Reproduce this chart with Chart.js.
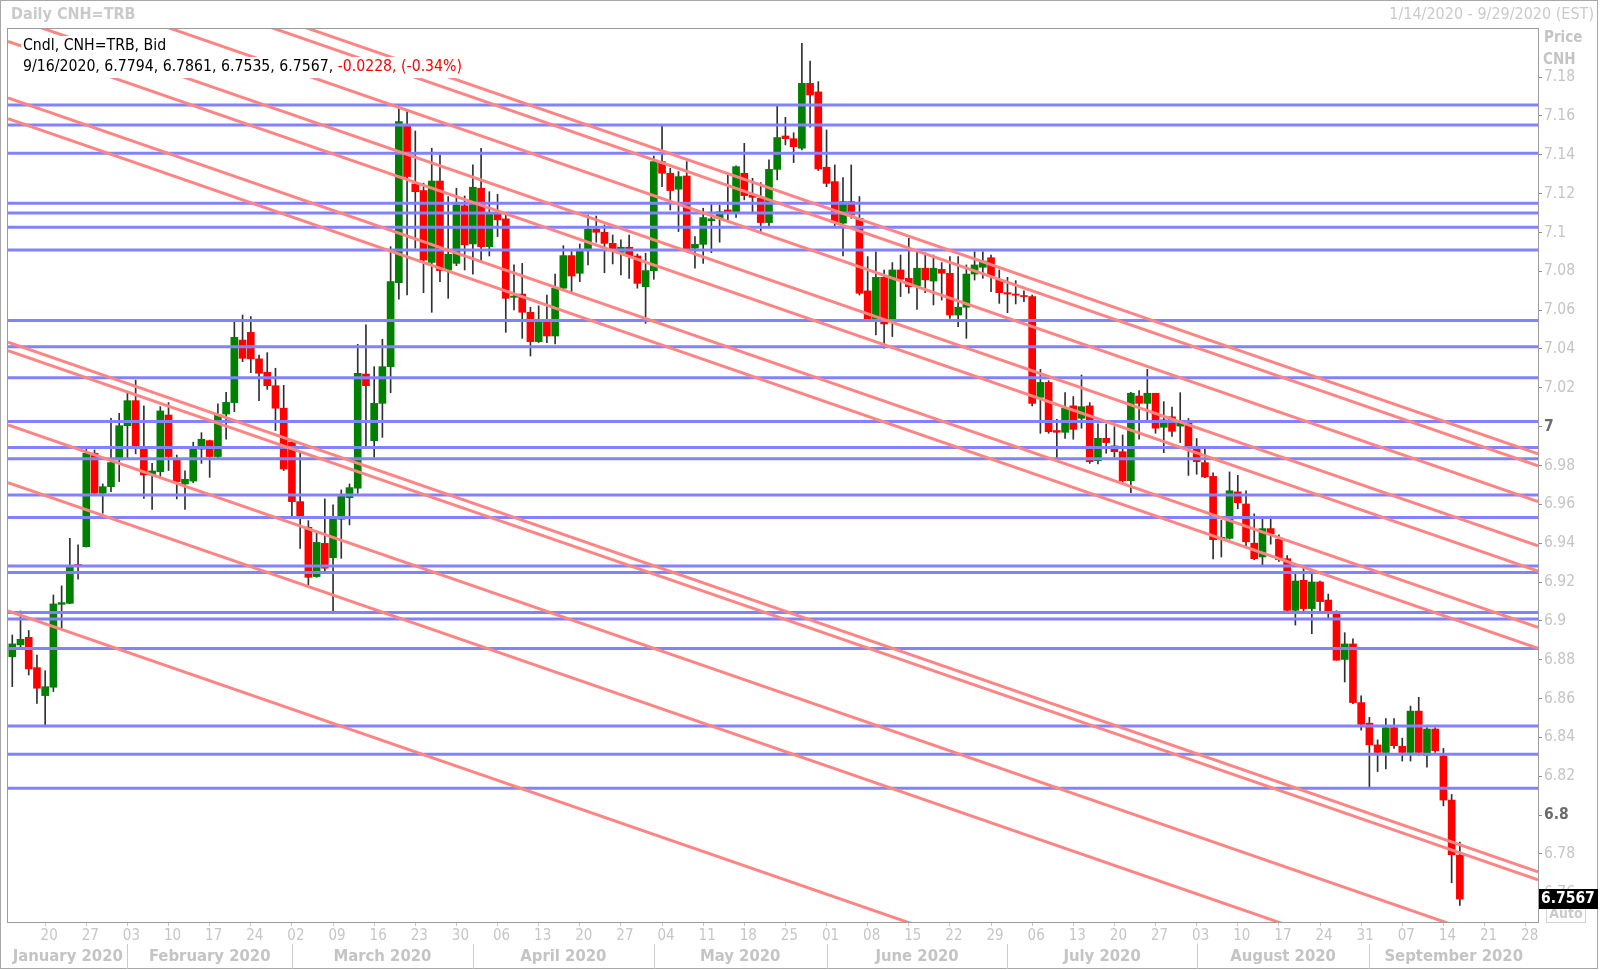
<!DOCTYPE html>
<html>
<head>
<meta charset="utf-8">
<script src="https://cdn.jsdelivr.net/npm/chart.js@4.4.1/dist/chart.umd.min.js"></script>
<style>
  html, body { margin: 0; padding: 0; background: #fff; }
  canvas { display: block; }
</style>
</head>
<body>
<canvas id="chart" width="1600" height="970"></canvas>
<script>
// Daily CNH=TRB candles, 14 Jan 2020 .. 16 Sep 2020 (one entry per weekday session)
const opens = [
  6.8815,6.8876,6.8915,6.8759,6.8615,6.8658,6.9085,6.9090,6.9290,6.9382,
  6.9863,6.9657,6.9691,6.9829,7.0005,7.0134,6.9889,6.9751,6.9768,7.0060,
  6.9829,6.9705,6.9720,6.9884,6.9928,6.9846,7.0065,7.0124,7.0446,7.0486,
  7.0349,7.0280,7.0211,7.0095,6.9920,6.9614,6.9482,6.9228,6.9399,6.9325,
  6.9523,6.9634,6.9683,7.0271,6.9928,7.0120,7.0309,7.0742,7.1549,7.1250,
  7.1216,7.0846,7.1265,7.0807,7.0841,7.1138,7.0941,7.1228,7.0927,7.1094,
  7.1070,7.0666,7.0683,7.0589,7.0438,7.0541,7.0467,7.0713,7.0881,7.0790,
  7.0915,7.1017,7.1001,7.0944,7.0898,7.0924,7.0879,7.0721,7.0804,7.1365,
  7.1305,7.1223,7.1291,7.0919,7.0939,7.1061,7.1073,7.1116,7.1107,7.1305,
  7.1193,7.1176,7.1051,7.1325,7.1497,7.1483,7.1434,7.1768,7.1724,7.1336,
  7.1262,7.1048,7.1159,7.1073,7.0699,7.0549,7.0769,7.0549,7.0807,7.0764,
  7.0725,7.0816,7.0750,7.0810,7.0790,7.0575,7.0615,7.0786,7.0821,7.0870,
  7.0759,7.0690,7.0683,7.0675,7.0670,7.0151,7.0228,6.9980,6.9971,7.0107,
  7.0043,7.0107,6.9825,6.9940,6.9901,6.9871,6.9722,7.0158,7.0120,7.0172,
  6.9997,7.0051,7.0003,7.0019,6.9886,6.9815,6.9744,6.9421,6.9425,6.9664,
  6.9602,6.9400,6.9329,6.9475,6.9421,6.9320,6.9054,6.9209,6.9063,6.9200,
  6.9107,6.9040,6.8801,6.8881,6.8579,6.8473,6.8361,6.8322,6.8450,6.8354,
  6.8322,6.8535,6.8308,6.8443,6.8304,6.8077,6.7794
];
const highs = [
  6.8927,6.9051,6.8950,6.8824,6.8743,6.9133,6.9180,6.9425,6.9391,6.9889,
  6.9880,6.9705,7.0043,7.0069,7.0172,7.0240,7.0107,6.9811,7.0103,7.0124,
  6.9854,6.9772,6.9920,6.9969,6.9931,7.0117,7.0177,7.0541,7.0575,7.0567,
  7.0369,7.0381,7.0301,7.0213,6.9926,6.9871,6.9516,6.9451,6.9628,6.9597,
  6.9674,6.9705,7.0424,7.0524,7.0309,7.0450,7.0927,7.1652,7.1634,7.1523,
  7.1254,7.1434,7.1399,7.1185,7.1228,7.1188,7.1348,7.1434,7.1210,7.1197,
  7.1099,7.0833,7.0841,7.0615,7.0622,7.0678,7.0786,7.0932,7.0902,7.0941,
  7.1090,7.1085,7.1039,7.0987,7.0962,7.0987,7.0889,7.0893,7.1394,7.1549,
  7.1331,7.1314,7.1365,7.0979,7.1125,7.1147,7.1142,7.1296,7.1343,7.1459,
  7.1279,7.1257,7.1374,7.1652,7.1593,7.1514,7.1974,7.1883,7.1777,7.1528,
  7.1348,7.1283,7.1348,7.1185,7.0876,7.0901,7.0807,7.0845,7.0884,7.0970,
  7.0901,7.0896,7.0884,7.0845,7.0876,7.0876,7.0833,7.0901,7.0901,7.0884,
  7.0807,7.0769,7.0752,7.0699,7.0678,7.0295,7.0237,7.0038,7.0175,7.0155,
  7.0266,7.0124,7.0014,7.0014,7.0000,6.9957,7.0177,7.0186,7.0295,7.0172,
  7.0129,7.0101,7.0175,7.0042,6.9939,6.9886,6.9762,6.9519,6.9767,6.9749,
  6.9670,6.9551,6.9524,6.9524,6.9443,6.9336,6.9240,6.9271,6.9240,6.9205,
  6.9138,6.9052,6.8939,6.8907,6.8614,6.8503,6.8387,6.8496,6.8496,6.8396,
  6.8561,6.8606,6.8450,6.8450,6.8343,6.8106,6.7861
];
const lows = [
  6.8661,6.8867,6.8721,6.8575,6.8465,6.8636,6.8962,6.9088,6.9214,6.9380,
  6.9650,6.9554,6.9665,6.9717,6.9837,6.9860,6.9631,6.9574,6.9743,6.9774,
  6.9628,6.9574,6.9712,6.9811,6.9739,6.9837,6.9935,7.0077,7.0335,7.0278,
  7.0134,7.0192,6.9980,6.9774,6.9540,6.9373,6.9176,6.9224,6.9253,6.9047,
  6.9322,6.9494,6.9657,6.9902,6.9842,6.9945,7.0175,7.0656,7.0678,7.0919,
  7.0690,7.0589,7.0747,7.0661,7.0829,7.0807,7.0785,7.0850,7.0879,7.0979,
  7.0486,7.0601,7.0455,7.0364,7.0433,7.0433,7.0426,7.0701,7.0687,7.0747,
  7.0833,7.0950,7.0793,7.0838,7.0781,7.0764,7.0713,7.0532,7.0759,7.1236,
  7.1116,7.1005,7.0913,7.0816,7.0841,7.0896,7.0950,7.1065,7.1078,7.1168,
  7.1107,7.1005,7.1030,7.1271,7.1451,7.1360,7.1425,7.1542,7.1319,7.1236,
  7.1034,7.0879,7.1073,7.0678,7.0550,7.0472,7.0404,7.0464,7.0670,7.0687,
  7.0604,7.0690,7.0627,7.0652,7.0558,7.0515,7.0455,7.0755,7.0764,7.0695,
  7.0635,7.0587,7.0632,7.0644,7.0107,6.9966,6.9966,6.9825,6.9940,6.9935,
  6.9992,6.9811,6.9808,6.9863,6.9842,6.9708,6.9660,6.9935,7.0035,6.9966,
  6.9866,6.9950,6.9918,6.9749,6.9755,6.9737,6.9319,6.9329,6.9421,6.9577,
  6.9382,6.9315,6.9288,6.9395,6.9306,6.9045,6.8978,6.9045,6.8934,6.9045,
  6.9014,6.8797,6.8685,6.8574,6.8437,6.8145,6.8224,6.8237,6.8343,6.8278,
  6.8278,6.8308,6.8247,6.8322,6.8047,6.7651,6.7535
];
const closes = [
  6.8881,6.8905,6.8752,6.8653,6.8661,6.9087,6.9094,6.9276,6.9285,6.9863,
  6.9657,6.9691,6.9815,7.0005,7.0134,6.9902,6.9751,6.9772,7.0081,6.9846,
  6.9717,6.9729,6.9885,6.9935,6.9846,7.0060,7.0125,7.0460,7.0352,7.0349,
  7.0275,7.0211,7.0095,6.9782,6.9614,6.9540,6.9224,6.9404,6.9271,6.9523,
  6.9643,6.9686,7.0275,7.0211,7.0120,7.0309,7.0747,7.1571,7.1288,7.1210,
  7.0858,7.1265,7.0804,7.0888,7.1142,7.0936,7.1233,7.0927,7.1099,7.1065,
  7.0661,7.0673,7.0589,7.0438,7.0541,7.0467,7.0713,7.0881,7.0776,7.0914,
  7.1017,7.1001,7.0944,7.0915,7.0924,7.0879,7.0738,7.0804,7.1365,7.1305,
  7.1216,7.1288,7.0913,7.0939,7.1077,7.1070,7.1107,7.1107,7.1339,7.1190,
  7.1181,7.1051,7.1325,7.1489,7.1483,7.1442,7.1768,7.1708,7.1327,7.1253,
  7.1051,7.1159,7.1090,7.0687,7.0553,7.0769,7.0529,7.0807,7.0759,7.0721,
  7.0816,7.0756,7.0816,7.0790,7.0575,7.0615,7.0786,7.0833,7.0853,7.0776,
  7.0690,7.0683,7.0677,7.0670,7.0120,7.0228,6.9974,6.9971,7.0095,6.9986,
  7.0103,6.9820,6.9940,6.9918,6.9871,6.9722,7.0172,7.0120,7.0172,6.9992,
  7.0035,6.9976,7.0019,6.9900,6.9820,6.9741,6.9418,6.9430,6.9670,6.9608,
  6.9407,6.9320,6.9475,6.9448,6.9315,6.9054,6.9205,6.9063,6.9200,6.9099,
  6.9040,6.8797,6.8881,6.8579,6.8467,6.8361,6.8322,6.8450,6.8357,6.8322,
  6.8535,6.8322,6.8443,6.8331,6.8077,6.7795,6.7567
];

// Horizontal support / resistance levels
const levels = [
  7.1657, 7.1554, 7.1408, 7.1151, 7.1101, 7.1027, 7.0910, 7.0547, 7.0412, 7.0252,
  7.0026, 6.9893, 6.9835, 6.9648, 6.9532, 6.9283, 6.9249, 6.9043, 6.9009, 6.8857,
  6.8459, 6.8313, 6.8138
];
// Parallel trend channel lines: price on 14 Jan and price on 29 Sep
const trendStart = [7.2578, 7.2517, 7.2333, 7.2106, 7.1976, 7.1686, 7.1578, 7.0427, 7.0384, 7.0001, 6.9704, 6.9043];
const trendEnd   = [6.9867, 6.9805, 6.9621, 6.9394, 6.9264, 6.8974, 6.8866, 6.7715, 6.7673, 6.7290, 6.6993, 6.6332];

// Axis labels
const priceTicks = [6.76, 6.78, 6.80, 6.82, 6.84, 6.86, 6.88, 6.90, 6.92, 6.94, 6.96, 6.98,
                    7.00, 7.02, 7.04, 7.06, 7.08, 7.10, 7.12, 7.14, 7.16, 7.18];
const weekLabels = ['20','27','03','10','17','24','02','09','16','23','30','06','13','20','27',
                    '04','11','18','25','01','08','15','22','29','06','13','20','27','03','10',
                    '17','24','31','07','14','21','28'];
const monthNames = ['January 2020','February 2020','March 2020','April 2020','May 2020',
                    'June 2020','July 2020','August 2020','September 2020'];

const FONT = '"DejaVu Sans Condensed", "DejaVu Sans", sans-serif';
const X_MIN = -0.52, X_MAX = 185.5;
const Y_MIN = 6.7449, Y_MAX = 7.2048;

// Weekday sessions covering the visible date range
const sessions = [];
for (let d = new Date(2020, 0, 14); d <= new Date(2020, 8, 29); d.setDate(d.getDate() + 1)) {
  const wd = d.getDay();
  if (wd !== 0 && wd !== 6) sessions.push(new Date(d));
}
const lastSession = sessions.length - 1;
const mondayIdx = sessions.map((d, i) => d.getDay() === 1 ? i : -1).filter(i => i >= 0);
const monthStartIdx = sessions.map((d, i) =>
  (i === 0 || d.getMonth() !== sessions[i - 1].getMonth()) ? i : -1).filter(i => i >= 0);

const UP = '#008000', DOWN = '#ff0000';
const wickData = highs.map((h, i) => ({ x: i, y: [lows[i], h] }));
const bodyData = opens.map((o, i) => ({ x: i, y: [Math.min(o, closes[i]), Math.max(o, closes[i])] }));
const bodyColors = opens.map((o, i) => closes[i] >= o ? UP : DOWN);

const datasets = [];
trendStart.forEach((p0, k) => {
  const slope = (trendEnd[k] - p0) / lastSession;
  datasets.push({
    type: 'line', order: 0, clip: 0,
    data: [{ x: X_MIN, y: p0 + slope * X_MIN }, { x: X_MAX, y: p0 + slope * X_MAX }],
    borderColor: '#ff8585', borderWidth: 3, pointRadius: 0, tension: 0
  });
});
levels.forEach(p => {
  datasets.push({
    type: 'line', order: 1, clip: 0,
    data: [{ x: X_MIN, y: p }, { x: X_MAX, y: p }],
    borderColor: '#8282ff', borderWidth: 3, pointRadius: 0, tension: 0
  });
});
datasets.push({
  type: 'bar', order: 2, grouped: false, data: bodyData,
  backgroundColor: bodyColors, barThickness: 7, minBarLength: 1,
  borderWidth: 0, borderSkipped: false
});
datasets.push({
  type: 'bar', order: 3, grouped: false, data: wickData,
  backgroundColor: '#303030', barThickness: 1, borderWidth: 0, borderSkipped: false
});

const fmtPrice = v => String(Number(v.toFixed(2)));
const isMajor = ctx => !!(ctx && ctx.tick) && Math.abs(ctx.tick.value * 5 - Math.round(ctx.tick.value * 5)) < 1e-6;

const decor = {
  id: 'decor',
  beforeDraw(chart) {
    const c = chart.ctx;
    c.save();
    c.fillStyle = '#ffffff';
    c.fillRect(0, 0, chart.width, chart.height);
    c.restore();
  },
  afterDraw(chart) {
    const c = chart.ctx, a = chart.chartArea, xs = chart.scales.x, ys = chart.scales.y;
    c.save();

    // plot frame and outer frame
    c.strokeStyle = '#9c9c9c';
    c.lineWidth = 1;
    c.strokeRect(a.left - 0.5, a.top - 0.5, a.right - a.left + 1, a.bottom - a.top + 1);
    c.strokeStyle = '#a8a8a8';
    c.strokeRect(0.5, 0.5, 1597, 968);

    // title row
    c.textBaseline = 'middle';
    c.fillStyle = '#cacaca';
    c.font = 'bold 16px ' + FONT;
    c.textAlign = 'left';
    c.fillText('Daily CNH=TRB', 11, 15);
    c.font = '16px ' + FONT;
    c.textAlign = 'right';
    c.fillText('1/14/2020 - 9/29/2020 (EST)', 1594, 15);

    // axis caption
    c.textAlign = 'left';
    c.font = 'bold 15px ' + FONT;
    c.fillStyle = '#c4c4c4';
    c.fillText('Price', 1544, 38);
    c.fillText('CNH', 1543, 60);

    // month row
    c.strokeStyle = '#cccccc';
    c.fillStyle = '#c4c4c4';
    c.font = 'bold 16.5px ' + FONT;
    c.textAlign = 'center';
    const edges = monthStartIdx.map((idx, k) => k === 0 ? a.left : xs.getPixelForValue(idx));
    edges.push(a.right);
    monthNames.forEach((name, k) => {
      if (k > 0) {
        const px = Math.round(edges[k]) + 0.5;
        c.beginPath(); c.moveTo(px, 944); c.lineTo(px, 969); c.stroke();
      }
      c.fillText(name, (edges[k] + edges[k + 1]) / 2, 957);
    });

    // legend block with the last session's values
    const n = closes.length - 1;
    const d = sessions[n];
    const chg = closes[n] - closes[n - 1];
    const pct = chg / closes[n - 1] * 100;
    const line1 = 'Cndl, CNH=TRB, Bid';
    const line2a = `${d.getMonth() + 1}/${d.getDate()}/${d.getFullYear()}, ${opens[n].toFixed(4)}, ${highs[n].toFixed(4)}, ${lows[n].toFixed(4)}, ${closes[n].toFixed(4)}, `;
    const line2b = `${chg.toFixed(4)}, (${pct.toFixed(2)}%)`;
    c.font = '15.7px ' + FONT;
    c.textAlign = 'left';
    const w1 = c.measureText(line1).width;
    const w2a = c.measureText(line2a).width;
    const w2b = c.measureText(line2b).width;
    c.fillStyle = '#ffffff';
    c.fillRect(21, 36, w1 + 4, 21);
    c.fillRect(21, 57, w2a + w2b + 4, 21);
    c.fillStyle = '#000000';
    c.fillText(line1, 23, 46);
    c.fillText(line2a, 23, 67);
    c.fillStyle = '#ff0000';
    c.fillText(line2b, 23 + w2a, 67);

    // auto-scale marker and last price tag
    c.strokeStyle = '#d4d4d4';
    c.strokeRect(1546.5, 904.5, 39, 18);
    c.fillStyle = '#cacaca';
    c.font = 'bold 14px ' + FONT;
    c.textAlign = 'center';
    c.fillText('Auto', 1566, 914);
    const py = ys.getPixelForValue(closes[n]);
    c.fillStyle = '#000000';
    c.fillRect(a.right + 1, Math.round(py) - 10, 59, 20);
    c.fillStyle = '#ffffff';
    c.font = 'bold 15.5px ' + FONT;
    c.textAlign = 'left';
    c.fillText(closes[n].toFixed(4), a.right + 3, Math.round(py));

    c.restore();
  }
};

new Chart(document.getElementById('chart'), {
  type: 'bar',
  data: { datasets },
  options: {
    responsive: false,
    animation: false,
    devicePixelRatio: 1,
    layout: { padding: { left: 8, top: 29, right: 0, bottom: 0 } },
    plugins: { legend: { display: false }, tooltip: { enabled: false } },
    scales: {
      x: {
        type: 'linear', position: 'bottom', min: X_MIN, max: X_MAX, offset: false,
        afterBuildTicks: s => { s.ticks = mondayIdx.map(v => ({ value: v })); },
        afterFit: s => { s.height = 48; },
        grid: { drawOnChartArea: false, offset: false, tickLength: 4, color: '#c8c8c8' },
        border: { display: true, color: '#9c9c9c' },
        ticks: {
          autoSkip: false, maxRotation: 0, minRotation: 0, padding: 1, labelOffset: 4,
          color: '#c6c6c6', font: { family: FONT, size: 15 },
          callback: (v, i) => weekLabels[i] ?? ''
        }
      },
      y: {
        type: 'linear', position: 'right', min: Y_MIN, max: Y_MAX,
        afterBuildTicks: s => { s.ticks = priceTicks.map(v => ({ value: v })); },
        afterFit: s => { s.width = 62; },
        grid: { drawOnChartArea: false, tickLength: 4, color: '#8c8c8c' },
        border: { display: true, color: '#9c9c9c' },
        ticks: {
          autoSkip: false, padding: 2,
          color: ctx => isMajor(ctx) ? '#6c6c6c' : '#c4c4c4',
          font: ctx => ({ family: FONT, size: 15.5, weight: isMajor(ctx) ? 'bold' : 'normal' }),
          callback: v => fmtPrice(v)
        }
      }
    }
  },
  plugins: [decor]
});
</script>
</body>
</html>
